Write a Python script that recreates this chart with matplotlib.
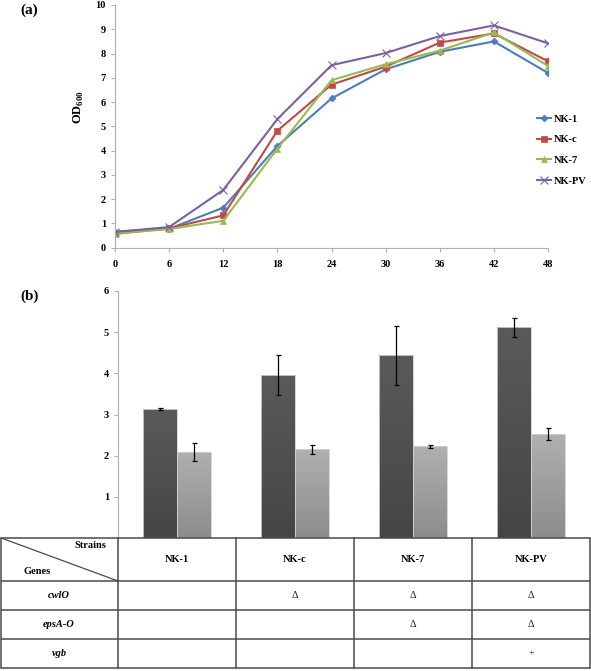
import numpy as np
import matplotlib
matplotlib.use("Agg")
import matplotlib.pyplot as plt
from matplotlib.colors import LinearSegmentedColormap

plt.rcParams['font.family'] = ['Liberation Serif', 'DejaVu Serif']
plt.rcParams['mathtext.fontset'] = 'custom'
plt.rcParams['mathtext.rm'] = 'Liberation Serif'
plt.rcParams['mathtext.bf'] = 'Liberation Serif:bold'

# ---------------- data ----------------
hours = [0, 6, 12, 18, 24, 30, 36, 42, 48]
nk1 = [0.66, 0.78, 1.65, 4.19, 6.15, 7.35, 8.07, 8.5, 7.2]
nkc = [0.57, 0.8, 1.33, 4.82, 6.72, 7.46, 8.45, 8.83, 7.68]
nk7 = [0.58, 0.77, 1.11, 4.08, 6.9, 7.56, 8.12, 8.87, 7.49]
nkpv = [0.65, 0.85, 2.38, 5.3, 7.52, 8.02, 8.72, 9.16, 8.42]
line_labels = ['NK-1', 'NK-c', 'NK-7', 'NK-PV']

strains = ['NK-1', 'NK-c', 'NK-7', 'NK-PV']
dark_vals = [3.13, 3.96, 4.44, 5.12]
dark_err = [0.02, 0.49, 0.72, 0.23]
light_vals = [2.09, 2.15, 2.23, 2.52]
light_err = [0.21, 0.10, 0.04, 0.14]

genes = ['cwlO', 'epsA-O', 'vgb']
table_marks = [
    ['', 'Δ', 'Δ', 'Δ'],
    ['', '', 'Δ', 'Δ'],
    ['', '', '', '+'],
]

# ---------------- figure ----------------
W, H = 591, 671
fig = plt.figure(figsize=(W / 100, H / 100), dpi=100)

def fx(px):
    return px / W

def fy(py):
    return 1 - py / H

axis_gray = '#b0b0b0'

# ---- panel (a) ----
ax1 = fig.add_axes([fx(115), fy(247.7), fx(548 - 115), (247.7 - 5) / H])
colors = ['#4a7ebb', '#be4b48', '#98b954', '#7d60a0']
markers = ['D', 's', '^', 'x']
msizes = [3.5, 5, 5, 5.5]
series = [nk1, nkc, nk7, nkpv]
handles = []
for s, c, m, ms, lab in zip(series, colors, markers, msizes, line_labels):
    h, = ax1.plot(hours, s, color=c, marker=m, markersize=ms, linewidth=1.5,
                  markeredgewidth=0.8 if m == 'x' else 0.5, label=lab)
    handles.append(h)
ax1.set_xlim(0, 48)
ax1.set_ylim(0, 10)
ax1.set_xticks(hours)
ax1.set_yticks(range(0, 11))
for sp in ['top', 'right']:
    ax1.spines[sp].set_visible(False)
for sp in ['left', 'bottom']:
    ax1.spines[sp].set_color(axis_gray)
ax1.tick_params(axis='both', colors=axis_gray, labelcolor='black', length=3,
                width=0.8, labelsize=7.5)
ax1.tick_params(axis='x', pad=6)
for t in ax1.get_xticklabels() + ax1.get_yticklabels():
    t.set_fontweight('bold')
ax1.set_ylabel(r'$\mathbf{OD}_{\mathbf{600}}$', fontsize=9)
ax1.yaxis.set_label_coords((86 - 115) / 433, (247.7 - 107) / 242.7)

fig.legend(handles=handles, loc='center left',
           bbox_to_anchor=(fx(532), fy(150)), frameon=False,
           handlelength=1.3, handletextpad=0.3, labelspacing=1.1,
           borderpad=0, prop={'family': 'Liberation Serif',
                              'weight': 'bold', 'size': 7.5})

fig.text(fx(20), fy(10), '(a)', fontsize=11, fontweight='bold',
         ha='left', va='center')

# ---- panel (b) ----
ax2 = fig.add_axes([fx(118), fy(538), fx(590 - 118), (538 - 291) / H])
x = np.arange(len(strains))
bw = 0.288
b1 = ax2.bar(x - bw / 2, dark_vals, bw, color='none', edgecolor='none')
b2 = ax2.bar(x + bw / 2, light_vals, bw, color='none', edgecolor='none')

def gradient_fill(bars, top, bottom):
    grad = np.linspace(0, 1, 100).reshape(-1, 1)
    cmap = LinearSegmentedColormap.from_list('g', [bottom, top])
    for bar in bars:
        bx, by = bar.get_x(), bar.get_y()
        bwid, bh = bar.get_width(), bar.get_height()
        im = ax2.imshow(grad, extent=[bx, bx + bwid, by, by + bh],
                        origin='lower', aspect='auto', cmap=cmap, zorder=2)
        im.set_clip_path(bar)
        ax2.add_patch(plt.Rectangle((bx, by), bwid, bh, fill=False,
                                    edgecolor='#d0d0d0', linewidth=0.6,
                                    zorder=2.5))

gradient_fill(b1, '#5a5a5a', '#454545')
gradient_fill(b2, '#b0b0b0', '#8c8c8c')

ax2.errorbar(x - bw / 2, dark_vals, yerr=dark_err, fmt='none', ecolor='black',
             elinewidth=0.9, capsize=1.8, capthick=0.9, zorder=3)
ax2.errorbar(x + bw / 2, light_vals, yerr=light_err, fmt='none', ecolor='black',
             elinewidth=0.9, capsize=1.8, capthick=0.9, zorder=3)
ax2.set_xlim(-0.5, len(strains) - 0.5)
ax2.set_ylim(0, 6)
ax2.set_yticks(range(1, 7))
ax2.set_xticks([])
for sp in ['top', 'right', 'bottom']:
    ax2.spines[sp].set_visible(False)
ax2.spines['left'].set_color(axis_gray)
ax2.tick_params(axis='y', colors=axis_gray, labelcolor='black', length=3,
                width=0.8, labelsize=7.5)
for t in ax2.get_yticklabels():
    t.set_fontweight('bold')

fig.text(fx(20), fy(296), '(b)', fontsize=11, fontweight='bold',
         ha='left', va='center')

# ---- table ----
row_edges_px = [538, 581, 610, 639, 668]
axt = fig.add_axes([fx(0), fy(668), fx(590), (668 - 538) / H])
axt.set_xlim(-1.5, len(strains) - 0.5)
axt.set_ylim(668, 538)
axt.axis('off')
lc = '#4a4a4a'
lw = 1.1
for yv in row_edges_px:
    axt.plot([-1.49, len(strains) - 0.5], [yv, yv], color=lc, lw=lw,
             solid_capstyle='butt', clip_on=False)
for xv in [-1.49, -0.5, 0.5, 1.5, 2.5, 3.5]:
    axt.plot([xv, xv], [538, 668], color=lc, lw=lw, clip_on=False)
# diagonal header
axt.plot([-1.49, -0.5], [538, 581], color=lc, lw=0.9)
axt.text(-0.6, 546, 'Strains', ha='right', va='center', fontsize=7.5,
         fontweight='bold')
axt.text(-1.3, 572, 'Genes', ha='left', va='center', fontsize=7.5,
         fontweight='bold')
hdr_mid = (row_edges_px[0] + row_edges_px[1]) / 2
for i, s in enumerate(strains):
    axt.text(i, hdr_mid, s, ha='center', va='center', fontsize=7.5,
             fontweight='bold')
for r, g in enumerate(genes):
    ymid = (row_edges_px[r + 1] + row_edges_px[r + 2]) / 2
    axt.text(-1.0, ymid, g, ha='center', va='center', fontsize=7.5,
             fontweight='bold', fontstyle='italic')
    for i, mk in enumerate(table_marks[r]):
        if mk:
            axt.text(i, ymid, mk, ha='center', va='center', fontsize=7.5,
                     color='#222222')

fig.savefig('out.png', dpi=100)
